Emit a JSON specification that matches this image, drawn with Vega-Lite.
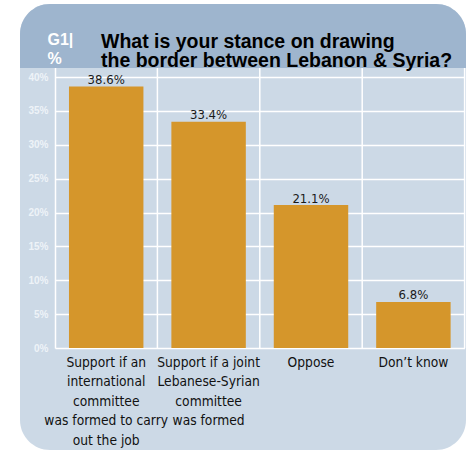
{
  "$schema": "https://vega.github.io/schema/vega-lite/v6.json",
  "width": 446,
  "height": 446,
  "autosize": {"type": "none"},
  "padding": {"left": 20, "top": 4, "right": 5, "bottom": 3},
  "background": "#ffffff",
  "config": {
    "view": {"fill": "#ccd9e6", "stroke": null, "cornerRadius": 30}
  },
  "title": {
    "text": ["What is your stance on drawing", "the border between Lebanon & Syria?"],
    "anchor": "start",
    "frame": "group",
    "orient": "top",
    "offset": -82,
    "dx": 81,
    "baseline": "alphabetic",
    "font": "Liberation Sans",
    "fontSize": 19.5,
    "fontWeight": "bold",
    "color": "#000000",
    "lineHeight": 19
  },
  "data": {
    "values": [
      {"stance": "Support if an\ninternational\ncommittee\nwas formed to carry\nout the job", "share": 0.386},
      {"stance": "Support if a joint\nLebanese-Syrian\ncommittee\nwas formed", "share": 0.334},
      {"stance": "Oppose", "share": 0.211},
      {"stance": "Don’t know", "share": 0.068}
    ]
  },
  "resolve": {"axis": {"y": "independent"}},
  "layer": [
    {
      "data": {"values": [{"part": "header"}]},
      "mark": {"type": "rect", "color": "#9eb5ce", "cornerRadiusTopLeft": 30, "cornerRadiusTopRight": 30},
      "encoding": {
        "y": {
          "datum": 0.50775,
          "type": "quantitative",
          "scale": {"domain": [0, 0.50775], "range": [344, 0], "nice": false},
          "axis": null
        },
        "y2": {"datum": 0.41328}
      }
    },
    {
      "mark": {"type": "bar", "color": "#d5962b", "width": {"band": 0.727}},
      "encoding": {
        "x": {
          "field": "stance",
          "type": "nominal",
          "sort": null,
          "scale": {"range": [35, 444.6], "paddingInner": 0, "paddingOuter": 0},
          "axis": {
            "orient": "bottom",
            "offset": -102,
            "title": null,
            "domain": false,
            "ticks": false,
            "grid": false,
            "labelAngle": 0,
            "labelExpr": "split(datum.label, '\\n')",
            "labelFont": "DejaVu Sans Condensed",
            "labelFontSize": 13.7,
            "labelLineHeight": 19.5,
            "labelColor": "#111111",
            "labelPadding": 7,
            "labelBaseline": "top",
            "labelLimit": 0,
            "labelOverlap": false
          }
        },
        "y": {
          "field": "share",
          "type": "quantitative",
          "axis": {
            "orient": "left",
            "offset": -35,
            "zindex": 1,
            "values": [0, 0.05, 0.1, 0.15, 0.2, 0.25, 0.3, 0.35, 0.4],
            "format": ".0%",
            "domain": false,
            "ticks": false,
            "grid": false,
            "labelFont": "Liberation Sans",
            "labelFontWeight": "bold",
            "labelFontSize": 10,
            "labelColor": "#eef3f8",
            "labelPadding": 7,
            "title": ["G1|", "%"],
            "titleAngle": 0,
            "titleX": -8,
            "titleY": 40.7,
            "titleAlign": "left",
            "titleBaseline": "alphabetic",
            "titleFont": "Liberation Sans",
            "titleFontSize": 16,
            "titleFontWeight": "bold",
            "titleColor": "#ffffff",
            "titleLineHeight": 19
          }
        }
      }
    },
    {
      "mark": {"type": "rule", "color": "#ffffff", "strokeWidth": 1.5, "xOffset": 51.2},
      "encoding": {
        "x": {"field": "stance", "type": "nominal", "sort": null},
        "y": {"datum": 0, "type": "quantitative", "axis": null},
        "y2": {"datum": 0.41328}
      }
    },
    {
      "mark": {"type": "text", "baseline": "alphabetic", "dy": -2.5, "font": "DejaVu Sans Condensed", "fontSize": 13, "color": "#1a1a1a"},
      "encoding": {
        "x": {"field": "stance", "type": "nominal", "sort": null},
        "y": {
          "field": "share",
          "type": "quantitative",
          "axis": {
            "orient": "left",
            "offset": -35,
            "zindex": 0,
            "values": [0, 0.05, 0.1, 0.15, 0.2, 0.25, 0.3, 0.35, 0.4],
            "domain": true,
            "domainColor": "#ffffff",
            "domainWidth": 1.5,
            "ticks": false,
            "labels": false,
            "title": null,
            "grid": true,
            "gridColor": "#ffffff",
            "gridWidth": 1.5
          }
        },
        "text": {"field": "share", "type": "quantitative", "format": ".1%"}
      }
    }
  ]
}
